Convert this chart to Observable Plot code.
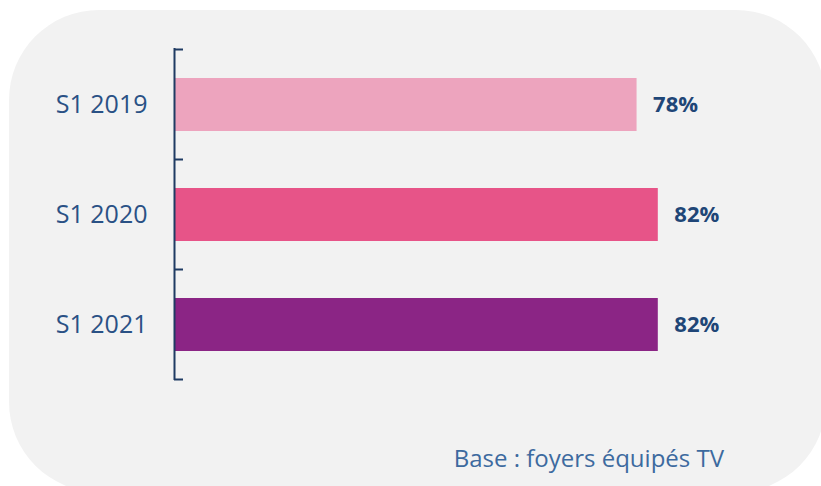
<!DOCTYPE html>
<html>
<head>
<meta charset="utf-8">
<script src="https://cdn.jsdelivr.net/npm/d3@7"></script>
<script src="https://cdn.jsdelivr.net/npm/@observablehq/plot@0.6"></script>
<style>
  html, body { margin: 0; padding: 0; background: #ffffff; width: 821px; height: 486px; overflow: hidden; font-family: "Open Sans", sans-serif; }
  #panel { position: absolute; left: 9px; top: 10px; width: 817px; height: 482px; border-radius: 90px; background: #f2f2f2; }
  #chart { position: absolute; left: 0; top: 0; }
  #caption { position: absolute; right: 97px; top: 446px; font-size: 24px; line-height: 24px; color: #3d6a9f; white-space: nowrap; }
</style>
</head>
<body>
<div id="panel"></div>
<div id="chart"></div>
<div id="caption">Base : foyers équipés TV</div>
<script>
const periods = ["S1 2019", "S1 2020", "S1 2021"];
const values = [78.4, 82, 82];
const valueLabels = ["78%", "82%", "82%"];
const barColors = ["#eda4be", "#e75488", "#8b2585"];

const data = periods.map((p, i) => ({period: p, value: values[i], label: valueLabels[i]}));

const axisColor = "#1f3b63";

function boundaryTicks(index, scales, vals, dimensions) {
  const y = scales.y, x = scales.x;
  const g = d3.create("svg:g");
  const bw = y.bandwidth();
  const half = (y.step() - bw) / 2;
  const dom = y.domain();
  const ys = dom.map(c => y(c) - half);
  ys.push(y(dom[dom.length - 1]) + bw + half);
  g.selectAll("line").data(ys).join("line")
    .attr("x1", x(0)).attr("x2", x(0) + 9)
    .attr("y1", d => d).attr("y2", d => d)
    .attr("stroke", axisColor).attr("stroke-width", 2);
  return g.node();
}

const chart = Plot.plot({
  width: 821,
  height: 486,
  marginLeft: 174,
  marginRight: 57,
  marginTop: 48,
  marginBottom: 106,
  style: {fontFamily: "'Open Sans', sans-serif", background: "transparent", overflow: "visible"},
  x: {domain: [0, 100], axis: null},
  y: {domain: periods, paddingInner: 0.52, paddingOuter: 0.26},
  color: {domain: periods, range: barColors},
  marks: [
    Plot.barX(data, {x: "value", y: "period", fill: "period"}),
    Plot.text(data, {x: "value", y: "period", text: "label", dx: 16, textAnchor: "start", fontWeight: "bold", fontSize: 22, fill: "#1f4677"}),
    Plot.axisY({tickSize: 0, tickPadding: 27, fontSize: 25, color: "#2a5185", label: null}),
    Plot.ruleX([0], {stroke: axisColor, strokeWidth: 2}),
    boundaryTicks
  ]
});
document.getElementById("chart").appendChild(chart);
</script>
</body>
</html>
